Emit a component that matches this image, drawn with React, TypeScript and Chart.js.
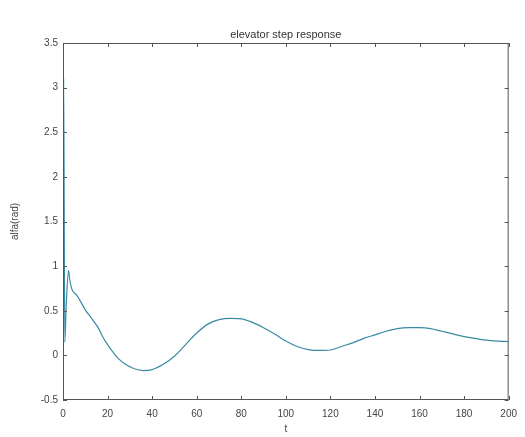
import React, { useEffect, useRef } from "react";
import { Chart, registerables } from "chart.js";

Chart.register(...registerables);

const tValues = [0, 0.3, 0.8, 1.5, 2.5, 3, 4, 6, 8, 10, 13, 16, 18, 20, 22, 25, 28, 32, 36, 40, 45, 50, 55, 60, 65, 70, 75, 80, 85, 90, 95, 100, 105, 110, 115, 120, 125, 130, 135, 140, 145, 150, 155, 160, 165, 170, 175, 180, 185, 190, 195, 200];
const alfaValues = [0, 3.1, 0.15, 0.6, 0.95, 0.85, 0.74, 0.68, 0.6, 0.51, 0.41, 0.3, 0.2, 0.12, 0.05, -0.04, -0.1, -0.15, -0.17, -0.16, -0.1, -0.01, 0.12, 0.25, 0.35, 0.4, 0.415, 0.41, 0.37, 0.31, 0.24, 0.16, 0.1, 0.065, 0.055, 0.06, 0.1, 0.14, 0.19, 0.23, 0.27, 0.3, 0.31, 0.31, 0.3, 0.27, 0.24, 0.21, 0.19, 0.17, 0.16, 0.155];
const xTicks = [0, 20, 40, 60, 80, 100, 120, 140, 160, 180, 200];
const yTicks = [-0.5, 0, 0.5, 1, 1.5, 2, 2.5, 3, 3.5];

const FONT = "'Liberation Sans', Arial, sans-serif";

const framePlugin = {
  id: "frame",
  afterDraw(chart: any) {
    const { ctx, chartArea } = chart;
    const xs = chart.scales.x;
    const ys = chart.scales.y;
    ctx.save();
    ctx.strokeStyle = "#555";
    ctx.lineWidth = 1;
    ctx.strokeRect(chartArea.left + 0.5, chartArea.top + 0.5, chartArea.right - chartArea.left - 1, chartArea.bottom - chartArea.top - 1);
    const L = 4;
    ctx.beginPath();
    xTicks.forEach((v) => {
      const px = Math.round(xs.getPixelForValue(v)) + 0.5;
      ctx.moveTo(px, chartArea.bottom);
      ctx.lineTo(px, chartArea.bottom - L);
      ctx.moveTo(px, chartArea.top);
      ctx.lineTo(px, chartArea.top + L);
    });
    yTicks.forEach((v) => {
      const py = Math.round(ys.getPixelForValue(v)) + 0.5;
      ctx.moveTo(chartArea.left, py);
      ctx.lineTo(chartArea.left + L, py);
      ctx.moveTo(chartArea.right, py);
      ctx.lineTo(chartArea.right - L, py);
    });
    ctx.stroke();
    ctx.fillStyle = "#333";
    ctx.font = `11px ${FONT}`;
    ctx.textAlign = "center";
    ctx.textBaseline = "bottom";
    ctx.fillText("elevator step response", (chartArea.left + chartArea.right) / 2, chartArea.top - 3);
    ctx.restore();
  },
};

export default function App() {
  const ref = useRef<HTMLCanvasElement>(null);
  useEffect(() => {
    if (!ref.current) return;
    const chart = new Chart(ref.current, {
      type: "line",
      data: {
        datasets: [
          {
            data: tValues.map((t, i) => ({ x: t, y: alfaValues[i] })),
            borderColor: "#3a8aa3",
            borderWidth: 1.2,
            pointRadius: 0,
            cubicInterpolationMode: "monotone",
            fill: false,
          },
        ],
      },
      options: {
        responsive: false,
        animation: false,
        layout: { padding: { left: 0, right: 12, top: 43, bottom: 0 } },
        plugins: { legend: { display: false }, tooltip: { enabled: false }, title: { display: false } },
        scales: {
          x: {
            type: "linear",
            min: 0,
            max: 200,
            afterBuildTicks: (s: any) => {
              s.ticks = xTicks.map((v) => ({ value: v }));
            },
            afterFit: (s: any) => {
              s.height = 37;
            },
            ticks: { color: "#444", font: { family: FONT, size: 10 }, padding: 8, maxRotation: 0, autoSkip: false },
            grid: { drawOnChartArea: false, drawTicks: false },
            border: { display: false },
            title: { display: true, text: "t", color: "#444", font: { family: FONT, size: 10 }, padding: { top: 0, bottom: 2 } },
          },
          y: {
            type: "linear",
            min: -0.5,
            max: 3.5,
            afterBuildTicks: (s: any) => {
              s.ticks = yTicks.map((v) => ({ value: v }));
            },
            afterFit: (s: any) => {
              s.width = 63;
            },
            ticks: { color: "#444", font: { family: FONT, size: 10 }, padding: 5, autoSkip: false, callback: (v: any) => String(v) },
            grid: { drawOnChartArea: false, drawTicks: false },
            border: { display: false },
            title: { display: true, text: "alfa(rad)", color: "#444", font: { family: FONT, size: 10 }, padding: { top: 9, bottom: 0 } },
          },
        },
      },
      plugins: [framePlugin],
    });
    return () => chart.destroy();
  }, []);
  return (
    <div style={{ position: "fixed", left: 0, top: 0, width: 525, height: 437, background: "#fff" }}>
      <canvas ref={ref} width={525} height={437} style={{ width: 525, height: 437 }} />
    </div>
  );
}
